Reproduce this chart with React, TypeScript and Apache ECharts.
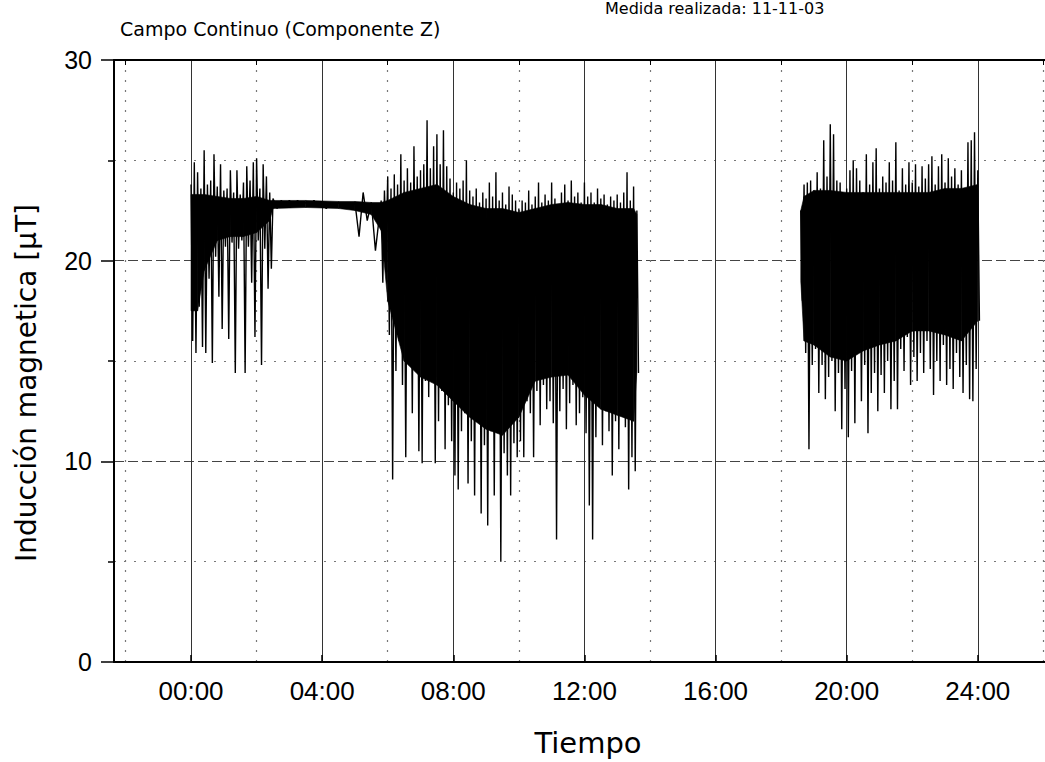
import React, { useEffect, useRef } from "react";
import * as echarts from "echarts";

// ---- axis ranges / ticks (hours, µT) ----
const X_MIN = -2.35;
const X_MAX = 26.05;
const majorHours = [0, 4, 8, 12, 16, 20, 24];
const minorHours = [-2, 2, 6, 10, 14, 18, 22, 26];

// ---- sampled envelope of the record: each sample gives a peak (high) and a trough (low) ----
// Segment 1: 00:00 - 02:24, step 0.1 h
const seg1Start = 0.0;
const seg1Step = 0.1;
const seg1High = [23.8, 24.9, 24.4, 23.6, 25.5, 23.8, 24.0, 25.3, 23.7, 24.8, 23.5, 23.6, 24.5, 23.4, 24.5, 23.3, 23.9, 24.7, 24.0, 24.9, 25.1, 23.6, 24.8, 24.2, 23.4];
const seg1Low = [16.0, 15.4, 17.7, 15.7, 15.4, 19.1, 14.9, 20.2, 18.2, 16.6, 20.7, 16.1, 20.9, 14.4, 20.6, 21.0, 14.4, 20.7, 18.9, 16.2, 21.0, 14.8, 20.6, 18.6, 19.6];

// Segment 2: quiet period 02:30 - 05:30, step 0.25 h
const flatStart = 2.5;
const flatStep = 0.25;
const flatHigh = [23.1, 23.0, 23.0, 23.0, 22.9, 23.0, 22.9, 22.9, 22.9, 22.9, 22.9, 23.4, 22.9];
const flatLow = [22.6, 22.7, 22.7, 22.7, 22.7, 22.7, 22.6, 22.7, 22.6, 22.6, 21.2, 22.0, 20.5];

// Segment 3: 05:48 - 13:36, step 0.1 h
const seg3Start = 5.8;
const seg3Step = 0.1;
const seg3High = [
  23.0, 23.5, 24.2, 23.6, 24.3, 23.8, 25.3, 24.0, 24.6, 23.9,
  25.7, 24.2, 24.5, 24.8, 27.0, 24.6, 25.7, 26.3, 24.8, 26.5,
  24.7, 24.1, 23.4, 23.9, 23.6, 24.0, 25.0, 23.5, 23.2, 23.6,
  22.9, 23.4, 23.1, 23.9, 23.2, 24.4, 23.0, 23.4, 22.8, 23.7,
  23.3, 23.0, 22.6, 23.0, 22.9, 23.5, 22.8, 23.2, 23.9, 22.9,
  23.3, 23.0, 23.9, 23.1, 22.8, 23.4, 23.8, 23.0, 24.0, 23.2,
  23.4, 22.9, 23.9, 23.2, 23.4, 22.9, 23.6, 23.1, 23.3, 22.8,
  23.2, 23.0, 23.3, 22.9, 23.4, 24.4, 23.0, 23.7, 22.5,
];
const seg3Low = [
  18.9, 20.5, 16.3, 9.1, 14.5, 16.0, 13.8, 10.2, 15.2, 12.4,
  16.0, 10.5, 9.9, 14.0, 13.2, 15.0, 9.9, 12.0, 13.5, 10.6,
  12.8, 11.0, 9.3, 8.6, 11.5, 12.4, 8.9, 11.0, 8.3, 12.0,
  7.4, 10.8, 6.8, 11.5, 8.3, 12.0, 5.0, 10.4, 9.3, 8.3,
  10.9, 10.2, 11.0, 10.2, 13.0, 12.4, 10.2, 13.5, 11.8, 13.8,
  12.6, 13.0, 11.9, 6.1, 12.5, 13.6, 11.6, 12.9, 13.8, 11.8,
  12.4, 13.2, 11.4, 7.8, 6.1, 11.2, 12.8, 10.8, 12.5, 11.5,
  9.3, 12.0, 10.6, 13.2, 11.7, 8.6, 10.2, 9.5, 14.4,
];

// Segment 4: 18:36 - 24:00, step 0.1 h
const seg4Start = 18.6;
const seg4Step = 0.1;
const seg4High = [
  22.5, 23.8, 23.9, 24.0, 23.5, 24.4, 23.6, 26.0, 24.2, 26.8,
  26.3, 24.0, 23.9, 23.2, 23.6, 24.5, 25.0, 24.6, 24.0, 23.4,
  25.3, 23.8, 24.9, 25.6, 23.6, 24.2, 23.9, 24.9, 24.0, 25.9,
  23.5, 24.6, 23.8, 24.9, 23.9, 24.8, 23.7, 24.7, 24.1, 24.8,
  25.2, 23.8, 24.7, 25.3, 23.9, 25.1, 24.2, 24.6, 23.8, 24.5,
  23.4, 25.9, 26.0, 26.4, 24.5,
];
const seg4Low = [
  18.0, 15.4, 10.6, 14.8, 15.6, 13.4, 14.8, 13.1, 14.2, 15.0,
  12.5, 14.4, 11.6, 13.6, 11.2, 14.5, 11.9, 15.6, 13.0, 14.8,
  11.4, 13.4, 14.4, 12.5, 14.3, 13.4, 15.0, 12.6, 14.0, 12.6,
  15.6, 14.5, 16.2, 13.8, 15.2, 14.0, 15.4, 14.4, 16.0, 14.6,
  13.3, 15.0, 14.0, 15.8, 13.8, 14.6, 13.6, 15.4, 14.2, 13.4,
  14.8, 13.1, 13.0, 14.6, 17.0,
];

// ---- dense core of the trace (where the record is solid black) ----
const coreAmT = [0.0, 0.2, 0.4, 0.8, 1.2, 1.6, 2.0, 2.4, 2.5, 3.5, 4.5, 5.0, 5.5, 5.8, 6.0, 6.5, 7.0, 7.5, 8.0, 8.5, 9.0, 9.5, 10.0, 10.5, 11.0, 11.5, 12.0, 12.5, 13.0, 13.5, 13.6];
const coreAmTop = [23.3, 23.3, 23.3, 23.2, 23.1, 23.1, 23.2, 23.0, 23.0, 23.0, 22.95, 22.95, 22.9, 22.9, 23.0, 23.4, 23.6, 23.8, 23.2, 22.8, 22.6, 22.6, 22.4, 22.6, 22.8, 22.9, 22.8, 22.8, 22.6, 22.6, 22.3];
const coreAmBottom = [17.5, 17.5, 19.5, 21.0, 21.2, 21.2, 21.4, 22.0, 22.6, 22.65, 22.6, 22.5, 22.3, 21.5, 18.0, 15.0, 14.2, 13.8, 13.0, 12.2, 11.6, 11.3, 12.2, 14.0, 14.2, 14.3, 13.3, 12.6, 12.3, 12.0, 14.5];

const corePmT = [18.6, 18.7, 19.0, 19.5, 20.0, 20.5, 21.0, 21.5, 22.0, 22.5, 23.0, 23.5, 24.0];
const corePmTop = [22.5, 23.2, 23.5, 23.5, 23.4, 23.4, 23.4, 23.4, 23.4, 23.4, 23.6, 23.6, 23.8];
const corePmBottom = [19.0, 16.0, 15.8, 15.2, 15.0, 15.5, 15.8, 16.0, 16.5, 16.5, 16.3, 16.0, 17.0];

function zigzag(start: number, step: number, high: number[], low: number[]) {
  const pts: number[][] = [];
  high.forEach((h, i) => {
    const t = start + i * step;
    pts.push([t, h]);
    pts.push([t + step / 2, low[i]]);
  });
  return pts;
}

// filled band between the core top and bottom, drawn through the axes with api.coord
function coreSeries(t: number[], top: number[], bottom: number[]) {
  return {
    type: "custom",
    data: t.map((x, i) => [x, top[i], bottom[i]]),
    encode: { x: 0, y: [1, 2] },
    clip: true,
    silent: true,
    z: 3,
    renderItem: (params: any, api: any) => {
      const i = params.dataIndex;
      if (i >= t.length - 1) return null;
      const pts = [
        api.coord([t[i], top[i]]),
        api.coord([t[i + 1], top[i + 1]]),
        api.coord([t[i + 1], bottom[i + 1]]),
        api.coord([t[i], bottom[i]]),
      ];
      return {
        type: "polygon",
        shape: { points: pts },
        style: { fill: "#000", stroke: "#000", lineWidth: 0.6 },
      };
    },
  };
}

const pad2 = (n: number) => (n < 10 ? "0" + n : "" + n);

export default function App() {
  const ref = useRef<HTMLDivElement>(null);

  useEffect(() => {
    if (!ref.current) return;
    const chart = echarts.init(ref.current, undefined, { renderer: "svg" });

    const morning = [
      ...zigzag(seg1Start, seg1Step, seg1High, seg1Low),
      ...zigzag(flatStart, flatStep, flatHigh, flatLow),
      ...zigzag(seg3Start, seg3Step, seg3High, seg3Low),
    ];
    const evening = zigzag(seg4Start, seg4Step, seg4High, seg4Low);

    const numFont = "Liberation Sans";
    const wordFont = "DejaVu Sans";

    chart.setOption({
      animation: false,
      backgroundColor: "#ffffff",
      grid: { left: 114, right: 0, top: 60, bottom: 100, containLabel: false },
      xAxis: [
        {
          type: "value",
          position: "bottom",
          min: X_MIN,
          max: X_MAX,
          axisLine: { show: true, onZero: false, lineStyle: { color: "#000", width: 2 } },
          axisTick: {
            show: true,
            inside: true,
            length: 7,
            customValues: majorHours,
            lineStyle: { color: "#000", width: 1.5 },
          },
          axisLabel: {
            show: true,
            customValues: majorHours,
            formatter: (v: number) => pad2(Math.round(v)) + ":00",
            fontFamily: numFont,
            fontSize: 26,
            color: "#000",
            margin: 16,
          },
          splitLine: { show: true, lineStyle: { color: "#333", width: 1, type: "solid" } },
        },
        {
          type: "value",
          position: "top",
          min: X_MIN,
          max: X_MAX,
          axisLine: { show: true, onZero: false, lineStyle: { color: "#000", width: 2 } },
          axisTick: {
            show: true,
            inside: true,
            length: 5,
            customValues: minorHours,
            lineStyle: { color: "#000", width: 1 },
          },
          axisLabel: { show: false },
          splitLine: { show: true, lineStyle: { color: "#777", width: 1.2, type: [2, 8] } },
        },
      ],
      yAxis: {
        type: "value",
        min: 0,
        max: 30,
        interval: 10,
        axisLine: { show: true, onZero: false, lineStyle: { color: "#000", width: 2 } },
        axisTick: { show: true, length: 13, lineStyle: { color: "#000", width: 1.5 } },
        minorTick: { show: true, splitNumber: 2, length: 6, lineStyle: { color: "#000", width: 1.5 } },
        axisLabel: { fontFamily: numFont, fontSize: 25, color: "#000", margin: 22 },
        splitLine: { show: true, lineStyle: { color: "#444", width: 1, type: [10, 4] } },
        minorSplitLine: { show: true, lineStyle: { color: "#777", width: 1.2, type: [2, 8] } },
      },
      graphic: [
        {
          type: "text",
          left: 120,
          top: 19,
          style: { text: "Campo Continuo (Componente Z)", font: `19px "${wordFont}"`, fill: "#000" },
        },
        {
          type: "text",
          left: 605,
          top: 0,
          style: { text: "Medida realizada: 11-11-03", font: `16px "${wordFont}"`, fill: "#000" },
        },
        {
          type: "text",
          x: 26,
          y: 383,
          rotation: Math.PI / 2,
          style: {
            text: "Inducción magnetica [μT]",
            font: `28px "${wordFont}"`,
            fill: "#000",
            align: "center",
            verticalAlign: "middle",
          },
        },
        {
          type: "text",
          x: 588,
          y: 743,
          style: {
            text: "Tiempo",
            font: `29px "${wordFont}"`,
            fill: "#000",
            align: "center",
            verticalAlign: "middle",
          },
        },
      ],
      series: [
        coreSeries(coreAmT, coreAmTop, coreAmBottom),
        coreSeries(corePmT, corePmTop, corePmBottom),
        {
          type: "line",
          data: morning,
          showSymbol: false,
          symbol: "none",
          lineStyle: { color: "#000", width: 1.4 },
          silent: true,
          z: 5,
        },
        {
          type: "line",
          data: evening,
          showSymbol: false,
          symbol: "none",
          lineStyle: { color: "#000", width: 1.4 },
          silent: true,
          z: 5,
        },
      ],
    });

    return () => chart.dispose();
  }, []);

  return (
    <div
      ref={ref}
      style={{ position: "fixed", left: 0, top: 0, width: 1045, height: 762, background: "#fff" }}
    />
  );
}
